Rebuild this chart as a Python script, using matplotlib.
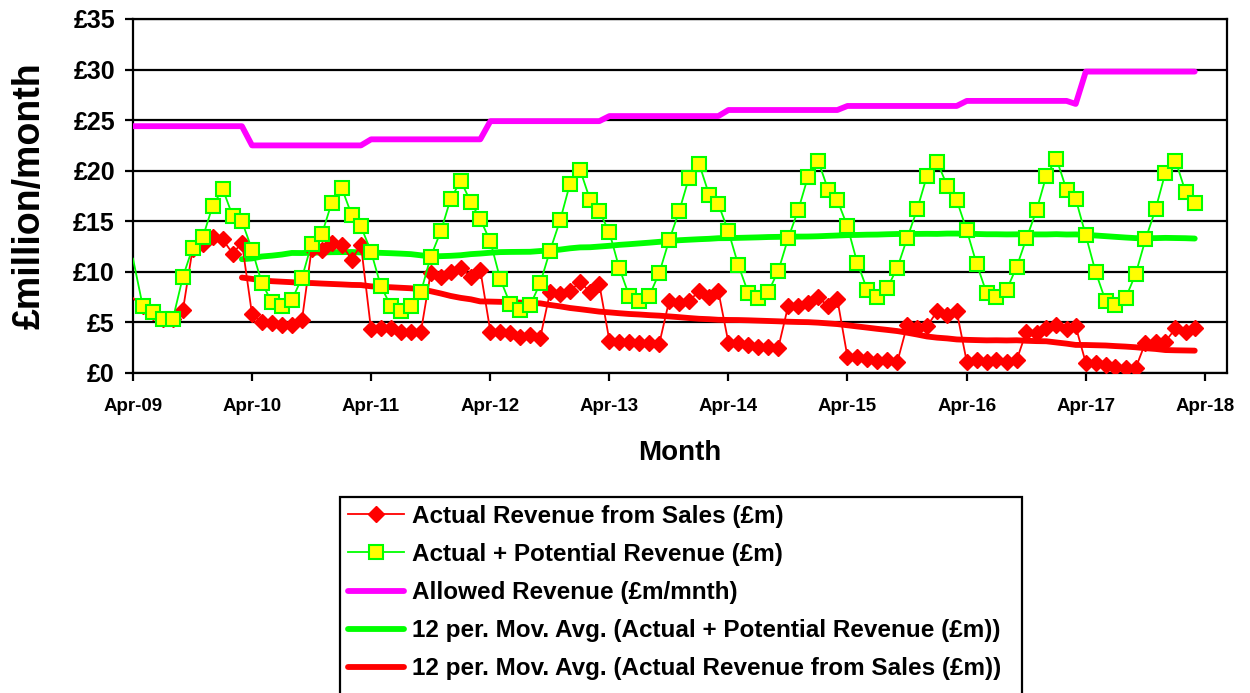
import pandas as pd
import matplotlib
matplotlib.use("Agg")
import matplotlib.pyplot as plt
from matplotlib.patches import Rectangle

plt.rcParams["font.family"] = ["Liberation Sans", "DejaVu Sans"]
plt.rcParams["font.weight"] = "bold"

months = pd.date_range("2009-04-01", periods=108, freq="MS")

# Actual revenue from sales (£m), one row per year Apr..Mar
actual_sales = [
    7.4, 6.6, 6.0, 5.3, 5.3, 6.2, 12.3, 12.8, 13.4, 13.2, 11.8, 12.9,
    5.8, 5.0, 4.9, 4.7, 4.7, 5.2, 12.3, 12.2, 12.9, 12.7, 11.2, 12.7,
    4.3, 4.4, 4.4, 4.1, 4.1, 4.1, 9.9, 9.5, 10.0, 10.4, 9.5, 10.2,
    4.1, 4.1, 4.0, 3.6, 3.8, 3.5, 8.0, 7.8, 8.1, 9.0, 8.0, 8.8,
    3.2, 3.1, 3.1, 3.0, 3.0, 2.9, 7.1, 6.9, 7.1, 8.1, 7.5, 8.1,
    3.0, 3.0, 2.8, 2.6, 2.6, 2.5, 6.6, 6.6, 6.9, 7.5, 6.6, 7.3,
    1.6, 1.6, 1.4, 1.2, 1.3, 1.1, 4.7, 4.4, 4.6, 6.1, 5.7, 6.1,
    1.1, 1.3, 1.1, 1.3, 1.1, 1.3, 4.1, 4.0, 4.4, 4.7, 4.3, 4.6,
    1.0, 1.0, 0.8, 0.6, 0.5, 0.5, 3.0, 3.1, 3.1, 4.4, 4.1, 4.4,
]

# Actual + potential revenue (£m)
actual_potential = [
    11.3, 6.6, 6.0, 5.3, 5.3, 9.5, 12.4, 13.4, 16.5, 18.2, 15.5, 15.0,
    12.2, 8.9, 7.0, 6.6, 7.2, 9.4, 12.8, 13.7, 16.8, 18.3, 15.6, 14.5,
    12.0, 8.6, 6.6, 6.1, 6.6, 8.0, 11.5, 14.0, 17.2, 19.0, 16.9, 15.2,
    13.0, 9.3, 6.8, 6.2, 6.7, 8.9, 12.1, 15.1, 18.7, 20.1, 17.1, 16.0,
    13.9, 10.4, 7.6, 7.1, 7.6, 9.9, 13.1, 16.0, 19.3, 20.7, 17.6, 16.7,
    14.0, 10.7, 7.9, 7.4, 8.0, 10.1, 13.3, 16.1, 19.4, 21.0, 18.1, 17.1,
    14.5, 10.9, 8.2, 7.5, 8.4, 10.4, 13.3, 16.2, 19.5, 20.9, 18.5, 17.1,
    14.1, 10.8, 7.9, 7.5, 8.2, 10.5, 13.3, 16.1, 19.5, 21.2, 18.1, 17.2,
    13.6, 10.0, 7.1, 6.7, 7.4, 9.8, 13.2, 16.2, 19.8, 21.0, 17.9, 16.8,
]

# Allowed revenue (£m/month)
allowed = [
    24.4, 24.4, 24.4, 24.4, 24.4, 24.4, 24.4, 24.4, 24.4, 24.4, 24.4, 24.4,
    22.5, 22.5, 22.5, 22.5, 22.5, 22.5, 22.5, 22.5, 22.5, 22.5, 22.5, 22.5,
    23.1, 23.1, 23.1, 23.1, 23.1, 23.1, 23.1, 23.1, 23.1, 23.1, 23.1, 23.1,
    24.9, 24.9, 24.9, 24.9, 24.9, 24.9, 24.9, 24.9, 24.9, 24.9, 24.9, 24.9,
    25.4, 25.4, 25.4, 25.4, 25.4, 25.4, 25.4, 25.4, 25.4, 25.4, 25.4, 25.4,
    26.0, 26.0, 26.0, 26.0, 26.0, 26.0, 26.0, 26.0, 26.0, 26.0, 26.0, 26.0,
    26.4, 26.4, 26.4, 26.4, 26.4, 26.4, 26.4, 26.4, 26.4, 26.4, 26.4, 26.4,
    26.9, 26.9, 26.9, 26.9, 26.9, 26.9, 26.9, 26.9, 26.9, 26.9, 26.9, 26.6,
    29.8, 29.8, 29.8, 29.8, 29.8, 29.8, 29.8, 29.8, 29.8, 29.8, 29.8, 29.8,
]

year_ticks = pd.date_range("2009-04-01", "2018-04-01", freq="12MS")

ma_potential = pd.Series(actual_potential, index=months).rolling(12).mean()
ma_sales = pd.Series(actual_sales, index=months).rolling(12).mean()

fig = plt.figure(figsize=(12.5, 6.93), dpi=100)
ax = fig.add_axes([0.1064, 0.4618, 0.8752, 0.5108])

ax.plot(months, ma_potential, color="#00ff00", lw=4.2, zorder=2,
        solid_capstyle="round",
        label="12 per. Mov. Avg. (Actual + Potential Revenue (£m))")
ax.plot(months, ma_sales, color="#ff0000", lw=4.2, zorder=2,
        solid_capstyle="round",
        label="12 per. Mov. Avg. (Actual Revenue from Sales (£m))")
ax.plot(months, actual_sales, color="#ff0000", lw=1.3, marker="D", ms=7.8,
        markevery=(1, 1), zorder=3, label="Actual Revenue from Sales (£m)")
ax.plot(months, actual_potential, color="#00ff00", lw=1.3, marker="s", ms=10.5,
        mfc="#ffff00", mec="#00ff00", mew=1.5, markevery=(1, 1), zorder=4,
        label="Actual + Potential Revenue (£m)")
ax.plot(months, allowed, color="#ff00ff", lw=4.2, zorder=3,
        solid_capstyle="round", label="Allowed Revenue (£m/mnth)")

ax.set_ylim(0, 35)
ax.set_yticks(range(0, 36, 5))
ax.set_yticklabels(["£%d" % v for v in range(0, 36, 5)])
ax.set_xlim(pd.Timestamp("2009-04-01"), pd.Timestamp("2018-06-08"))
ax.set_xticks(year_ticks)
ax.set_xticklabels([d.strftime("%b-%y") for d in year_ticks])

ax.yaxis.grid(True, color="black", lw=1.6)
ax.set_axisbelow(True)
for s in ax.spines.values():
    s.set_linewidth(1.6)
    s.set_color("black")

ax.tick_params(axis="y", labelsize=18, length=6, width=1.6, pad=7)
ax.tick_params(axis="x", labelsize=13.5, length=6, width=1.6, pad=12)
ax.set_xlabel("Month", fontsize=20, fontweight="bold", labelpad=18)
ax.set_ylabel("£million/month", fontsize=27, fontweight="bold")
ax.yaxis.set_label_coords(-0.078, 0.5)

handles, labels = ax.get_legend_handles_labels()
order = [2, 3, 4, 0, 1]
leg = fig.legend([handles[i] for i in order], [labels[i] for i in order],
                 loc="upper left", bbox_to_anchor=(0.272, 0.283),
                 borderaxespad=0, fontsize=17.5, frameon=False,
                 handlelength=2.3, handletextpad=0.33, labelspacing=0.62,
                 borderpad=0.33)

# legend box runs off the bottom of the picture
fig.add_artist(Rectangle((0.272, -0.05), 0.5456, 0.333, transform=fig.transFigure,
                         fill=False, ec="black", lw=1.6))

fig.savefig("out.png", dpi=100)
